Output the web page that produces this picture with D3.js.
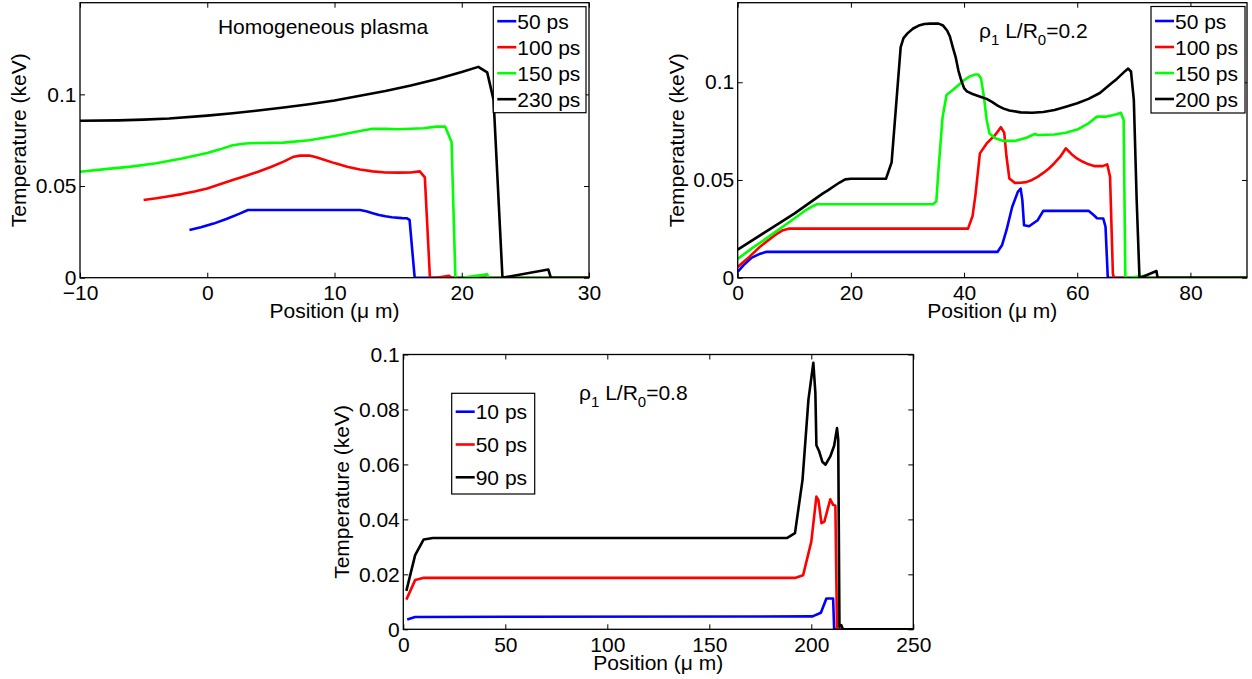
<!DOCTYPE html>
<html><head><meta charset="utf-8">
<script src="https://cdn.jsdelivr.net/npm/d3@7"></script>
<style>
html,body{margin:0;padding:0;background:#fff;}
svg text{font-family:"Liberation Sans",Arial,Helvetica,sans-serif;fill:#000;}
</style></head>
<body><svg id="c" width="1252" height="679"></svg>
<script>
// ---------- DATA ----------
// Panel 1: Homogeneous plasma  [position (um), temperature (keV)]
const homo50 = [[-1.4,0.026],[-0.5,0.0275],[0.5,0.0295],[1.5,0.032],[2.5,0.0348],[3.2,0.0369],[5,0.0369],[8,0.0369],[12,0.0369],[12.5,0.0362],[13,0.0352],[13.5,0.0342],[14,0.0335],[14.5,0.033],[15.3,0.0325],[15.7,0.0324],[15.9,0.0315],[16.3,0],[30,0]];
const homo100 = [[-5,0.0424],[-4,0.0433],[-3,0.0444],[-2,0.0456],[-1,0.047],[0,0.0487],[1,0.051],[2,0.0533],[3,0.0555],[4,0.0578],[5,0.0604],[6,0.0633],[6.8,0.066],[7.3,0.0666],[8,0.0666],[8.5,0.0658],[9,0.0647],[10,0.0625],[11,0.0605],[12,0.059],[13,0.058],[14,0.0574],[15,0.0573],[16,0.0574],[16.7,0.058],[17.1,0.0547],[17.5,0],[18,0],[19,0.001],[19.2,0],[30,0]];
const homo150 = [[-10,0.0578],[-8,0.0592],[-6,0.0606],[-4,0.0624],[-2,0.065],[0,0.068],[1,0.070],[2,0.0722],[3,0.0732],[4,0.0735],[6,0.0737],[8,0.075],[10,0.0773],[11,0.0787],[12,0.080],[13,0.0812],[14,0.0812],[15,0.081],[17,0.0815],[18,0.0824],[18.7,0.0824],[19.2,0.074],[19.5,0],[20,0],[22,0.0018],[22.1,0],[30,0]];
const homo230 = [[-10,0.0856],[-7,0.0858],[-5,0.0862],[-3,0.0868],[0,0.0884],[2,0.0897],[4,0.0912],[6,0.0928],[8,0.0946],[10,0.0967],[12,0.0992],[14,0.1018],[16,0.1048],[18,0.1082],[20,0.1122],[21.3,0.115],[22,0.112],[22.5,0.097],[23.2,0],[26.8,0.0045],[27,0],[30,0]];
const homoLabels = ["50 ps","100 ps","150 ps","230 ps"];
const homoXTicks = [-10,0,10,20,30];
const homoXTickLabels = ["\u221210","0","10","20","30"];
const homoYTicks = [0,0.05,0.1];
const homoYTickLabels = ["0","0.05","0.1"];

// Panel 2: rho1 L/R0 = 0.2
const r02_50 = [[0,0.0029],[1,0.0063],[2.5,0.0103],[4,0.0123],[5,0.0132],[45.9,0.0132],[46.7,0.0166],[47.5,0.0243],[48.5,0.0362],[49.5,0.0439],[50,0.0456],[50.3,0.0397],[50.6,0.0268],[51.5,0.0263],[53,0.0294],[54,0.0342],[62,0.0342],[62.8,0.0323],[63.5,0.0304],[64.6,0.0303],[65,0.026],[65.4,0],[90,0]];
const r02_100 = [[0,0.0055],[2,0.0105],[4,0.016],[6,0.0205],[7,0.0226],[8,0.0243],[9,0.0251],[40.7,0.0251],[41.5,0.0315],[42,0.042],[42.8,0.0636],[44,0.0687],[45.5,0.073],[46.5,0.077],[47.1,0.0742],[47.5,0.062],[48,0.0508],[49,0.0485],[50,0.0486],[51,0.0489],[52,0.05],[53,0.0516],[54,0.0536],[55,0.0559],[56,0.0587],[57,0.0619],[58,0.0662],[59,0.0632],[60,0.0609],[61,0.0593],[62,0.058],[63,0.0571],[64.5,0.0571],[65.3,0.058],[65.8,0.0516],[66.3,0.002],[66.5,0],[90,0]];
const r02_150 = [[0,0.0096],[2.5,0.015],[5,0.02],[10,0.0303],[12,0.0345],[13,0.0362],[14,0.0376],[34.5,0.0376],[35.1,0.039],[35.5,0.056],[36.2,0.082],[36.9,0.0935],[38,0.096],[39,0.0985],[40,0.101],[41,0.103],[42,0.104],[42.5,0.104],[43,0.102],[43.5,0.0926],[44,0.0807],[44.5,0.0738],[45.5,0.0713],[47,0.070],[49,0.070],[51,0.0716],[52.5,0.0735],[53,0.073],[56,0.0733],[58,0.0742],[60,0.0758],[62,0.079],[63.5,0.0824],[65,0.0824],[67,0.0836],[67.7,0.0844],[68.2,0.0807],[68.5,0],[69,0],[72,0.001],[72.2,0],[90,0]];
const r02_200 = [[0,0.0144],[5,0.0236],[10,0.0328],[15,0.043],[16,0.0448],[17,0.0468],[18,0.0487],[19,0.0503],[20,0.0506],[26.2,0.0506],[27.2,0.059],[28.8,0.118],[29.3,0.1226],[30,0.125],[31,0.1275],[32,0.129],[33,0.1298],[34,0.130],[35.5,0.130],[36.3,0.129],[37,0.1265],[37.5,0.1234],[38,0.118],[38.5,0.113],[39,0.106],[39.5,0.101],[40,0.097],[40.5,0.0953],[41.5,0.094],[43,0.0925],[44,0.0915],[45,0.0898],[46,0.0879],[47,0.0865],[48,0.0855],[50,0.0846],[52,0.0844],[54,0.0848],[56,0.0858],[58,0.0875],[60,0.0893],[62,0.0915],[64,0.0945],[66,0.0993],[67,0.1017],[68.5,0.1058],[69,0.107],[69.5,0.1055],[70,0.091],[70.5,0.04],[71,0],[71.2,0],[74,0.0034],[74.2,0],[90,0]];
const r02Labels = ["50 ps","100 ps","150 ps","200 ps"];
const r02XTicks = [0,20,40,60,80];
const r02XTickLabels = ["0","20","40","60","80"];
const r02YTicks = [0,0.05,0.1];
const r02YTickLabels = ["0","0.05","0.1"];

// Panel 3: rho1 L/R0 = 0.8
const r08_10 = [[1.9,0.0036],[5.8,0.0045],[200.6,0.0047],[204.7,0.006],[207.4,0.0112],[210.7,0.0112],[211.2,0],[250,0]];
const r08_50 = [[1.5,0.0108],[5.8,0.0179],[9.7,0.0187],[192,0.0187],[196,0.0197],[200,0.0319],[202.5,0.0483],[203.5,0.047],[205,0.0386],[206.4,0.0392],[209.3,0.0473],[210.7,0.0453],[211.8,0.045],[212.6,0],[250,0]];
const r08_90 = [[1.5,0.014],[5.8,0.027],[10,0.0327],[14.5,0.0332],[188,0.0332],[192,0.035],[195.7,0.0544],[198.6,0.0836],[201,0.097],[202,0.086],[202.5,0.067],[203.9,0.0647],[205.4,0.061],[207,0.0599],[209.3,0.0629],[211.2,0.0668],[212.6,0.0732],[213.2,0.069],[213.8,0.0009],[214.7,0.0015],[215.5,0],[250,0]];
const r08Labels = ["10 ps","50 ps","90 ps"];
const r08XTicks = [0,50,100,150,200,250];
const r08XTickLabels = ["0","50","100","150","200","250"];
const r08YTicks = [0,0.02,0.04,0.06,0.08,0.1];
const r08YTickLabels = ["0","0.02","0.04","0.06","0.08","0.1"];

const colors4 = ["#0000ff","#ff0000","#00ff00","#000000"];
const colors3 = ["#0000ff","#ff0000","#000000"];

// ---------- DRAW ----------
const svg = d3.select("#c");
svg.append("rect").attr("width",1252).attr("height",679).attr("fill","#fff");
const FS = 21;

function panel(o){
  const x = d3.scaleLinear().domain(o.xDomain).range([o.left,o.right]);
  const y = d3.scaleLinear().domain(o.yDomain).range([o.bottom,o.top]);
  const g = svg.append("g");
  const cid = "clip"+o.id;
  g.append("clipPath").attr("id",cid).append("rect")
    .attr("x",o.left).attr("y",o.top).attr("width",o.right-o.left).attr("height",o.bottom-o.top);

  const line = d3.line().x(d=>x(d[0])).y(d=>y(d[1]));
  const lg = g.append("g").attr("clip-path",`url(#${cid})`);
  o.series.forEach((s,i)=>{
    lg.append("path").datum(s).attr("d",line).attr("fill","none")
      .attr("stroke",o.colors[i]).attr("stroke-width",2.6).attr("stroke-linejoin","round");
  });

  const xf = (d)=>o.xLabels[o.xTicks.indexOf(d)];
  const yf = (d)=>o.yLabels[o.yTicks.indexOf(d)];
  const ax = g.append("g").attr("transform",`translate(0,${o.bottom})`)
    .call(d3.axisBottom(x).tickValues(o.xTicks).tickFormat(xf).tickSizeInner(-5).tickSizeOuter(0).tickPadding(7.5));
  const ay = g.append("g").attr("transform",`translate(${o.left},0)`)
    .call(d3.axisLeft(y).tickValues(o.yTicks).tickFormat(yf).tickSizeInner(-5).tickSizeOuter(0).tickPadding(3.5));
  const at = g.append("g").attr("transform",`translate(0,${o.top})`)
    .call(d3.axisTop(x).tickValues(o.xTicks).tickFormat("").tickSizeInner(-5).tickSizeOuter(0));
  const ar = g.append("g").attr("transform",`translate(${o.right},0)`)
    .call(d3.axisRight(y).tickValues(o.yTicks).tickFormat("").tickSizeInner(-5).tickSizeOuter(0));
  [ax,ay,at,ar].forEach(a=>{
    a.select(".domain").remove();
    a.selectAll(".tick line").attr("stroke","#000").attr("stroke-width",1);
    a.selectAll("text").style("font-size",FS+"px").style("font-family",'"Liberation Sans",Arial,sans-serif').attr("fill","#000");
  });
  g.append("rect").attr("x",o.left).attr("y",o.top).attr("width",o.right-o.left).attr("height",o.bottom-o.top)
    .attr("fill","none").attr("stroke","#000").attr("stroke-width",1.3);

  g.append("text").attr("x",(o.left+o.right)/2).attr("y",o.bottom+40.5).attr("text-anchor","middle")
    .style("font-size",FS+"px").text("Position (\u03bc m)");
  g.append("text").attr("transform",`translate(${o.left-54},${(o.top+o.bottom)/2}) rotate(-90)`)
    .attr("text-anchor","middle").style("font-size",FS+"px").text("Temperature (keV)");

  const L = o.legend;
  const lgd = g.append("g");
  lgd.append("rect").attr("x",L.x).attr("y",L.y).attr("width",L.w).attr("height",L.h)
    .attr("fill","#fff").attr("stroke","#000").attr("stroke-width",1.2);
  o.labels.forEach((t,i)=>{
    const yy = L.y + L.first + i*L.step;
    lgd.append("line").attr("x1",L.x+4).attr("x2",L.x+23).attr("y1",yy).attr("y2",yy)
      .attr("stroke",o.colors[i]).attr("stroke-width",2.6);
    lgd.append("text").attr("x",L.x+24).attr("y",yy).attr("dy","0.36em")
      .style("font-size",FS+"px").text(t);
  });
  return {g,x,y};
}

const p1 = panel({id:1,left:80,right:589,top:2.7,bottom:277.7,xDomain:[-10,30],yDomain:[0,0.15],
  xTicks:homoXTicks,xLabels:homoXTickLabels,yTicks:homoYTicks,yLabels:homoYTickLabels,
  series:[homo50,homo100,homo150,homo230],colors:colors4,labels:homoLabels,
  legend:{x:493.3,y:6.7,w:92.7,h:106,first:14.5,step:26}});
p1.g.append("text").attr("x",323).attr("y",33.5).attr("text-anchor","middle")
  .style("font-size",FS+"px").text("Homogeneous plasma");

const p2 = panel({id:2,left:737.7,right:1247,top:2.7,bottom:277.7,xDomain:[0,90],yDomain:[0,0.1407],
  xTicks:r02XTicks,xLabels:r02XTickLabels,yTicks:r02YTicks,yLabels:r02YTickLabels,
  series:[r02_50,r02_100,r02_150,r02_200],colors:colors4,labels:r02Labels,
  legend:{x:1151,y:6.5,w:94,h:106.5,first:14.5,step:26}});

function rhoText(g, xx, yy, val){
  const t = g.append("text").attr("x",xx).attr("y",yy).style("font-size",FS+"px");
  t.append("tspan").text("\u03c1");
  t.append("tspan").attr("dy",7).style("font-size","15px").text("1");
  t.append("tspan").attr("dy",-7).text(" L/R");
  t.append("tspan").attr("dy",7).style("font-size","15px").text("0");
  t.append("tspan").attr("dy",-7).text("="+val);
}
rhoText(p2.g, 979, 37.5, "0.2");

const p3 = panel({id:3,left:403.3,right:913.3,top:354.5,bottom:629.3,xDomain:[0,250],yDomain:[0,0.1],
  xTicks:r08XTicks,xLabels:r08XTickLabels,yTicks:r08YTicks,yLabels:r08YTickLabels,
  series:[r08_10,r08_50,r08_90],colors:colors3,labels:r08Labels,
  legend:{x:451.7,y:393.3,w:83,h:100.7,first:18.4,step:32.8}});
rhoText(p3.g, 579, 400, "0.8");
</script></body></html>
